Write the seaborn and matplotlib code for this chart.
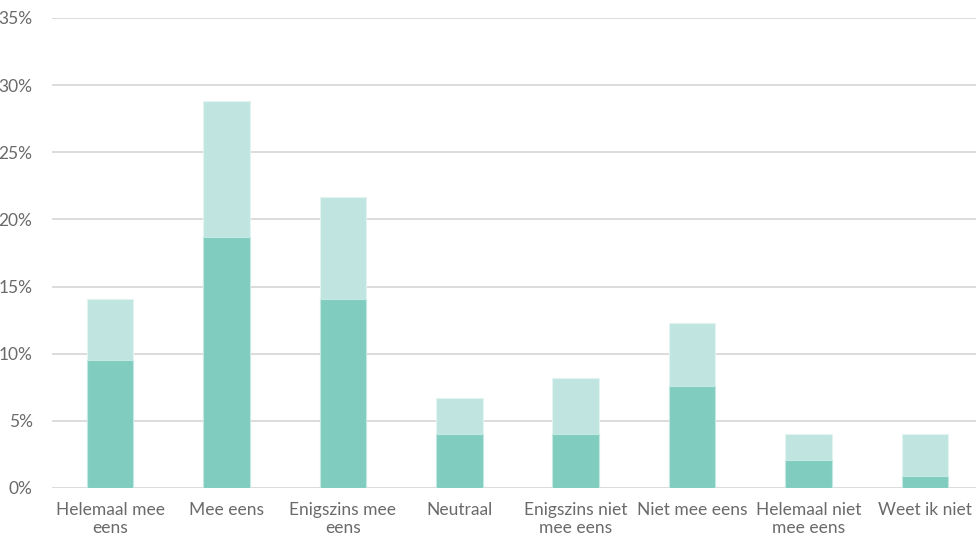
import matplotlib
matplotlib.use('Agg')
import matplotlib.pyplot as plt
import seaborn as sns
import pandas as pd

categories = ['Helemaal mee\neens', 'Mee eens', 'Enigszins mee\neens', 'Neutraal',
              'Enigszins niet\nmee eens', 'Niet mee eens', 'Helemaal niet\nmee eens', 'Weet ik niet']
base_values = [9.5, 18.7, 14.1, 4.0, 4.0, 7.6, 2.1, 0.9]
total_values = [14.1, 28.8, 21.7, 6.7, 8.2, 12.3, 4.0, 4.0]
y_ticks = [0, 5, 10, 15, 20, 25, 30, 35]

df = pd.DataFrame({'cat': categories, 'base': base_values, 'total': total_values})

sns.set_style('white')
plt.rcParams['font.family'] = ['Lato', 'DejaVu Sans']

fig = plt.figure(figsize=(9.76, 5.37), dpi=100)
ax = fig.add_axes([52 / 976, 1 - 488 / 537, 1 - 52 / 976, (488 - 18) / 537])

sns.barplot(data=df, x='cat', y='total', color='#c0e5e0', width=0.4, saturation=1,
            edgecolor='#e2f3f0', linewidth=0.8, ax=ax, zorder=3)
sns.barplot(data=df, x='cat', y='base', color='#80cdc0', width=0.4, saturation=1,
            edgecolor='#c4e8e2', linewidth=0.8, ax=ax, zorder=4)

ax.set_ylim(0, 35)
ax.set_xlim(-0.5, 7.44)
ax.set_yticks(y_ticks)
ax.set_yticklabels([f'{t}%' for t in y_ticks])
ax.yaxis.grid(True, color='#d9d9d9', linewidth=1.3, zorder=0)
ax.set_axisbelow(True)
for s in ax.spines.values():
    s.set_visible(False)
ax.tick_params(axis='both', length=0, labelsize=12.5, colors='#6a6a6a')
ax.tick_params(axis='y', pad=14)
ax.tick_params(axis='x', pad=10)
for lbl in ax.get_xticklabels():
    lbl.set_linespacing(1.15)
ax.set_xlabel('')
ax.set_ylabel('')

fig.savefig('out.png', dpi=100)
